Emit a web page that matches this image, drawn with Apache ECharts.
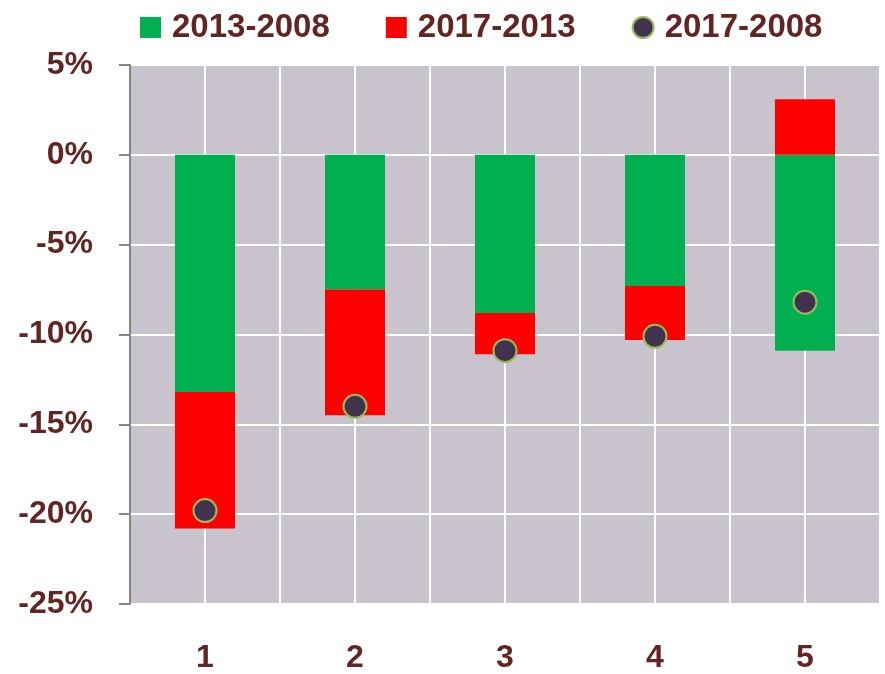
<!DOCTYPE html>
<html>
<head>
<meta charset="utf-8">
<script src="https://cdn.jsdelivr.net/npm/echarts@6/dist/echarts.min.js"></script>
<style>
  html, body { margin: 0; padding: 0; background: #fff; }
  #chart { width: 885px; height: 674px; }
</style>
</head>
<body>
<div id="chart"></div>
<script>
var categories = ['1', '2', '3', '4', '5'];
var change0813 = [-13.2, -7.5, -8.8, -7.3, -10.9];   // 2013-2008
var change1317 = [-7.6, -7.0, -2.3, -3.0, 3.1];      // 2017-2013
var change0817 = [-19.8, -14.0, -10.9, -10.1, -8.2]; // 2017-2008
var yTicks = [-25, -20, -15, -10, -5, 0, 5];

var labelColor = '#632523';
var fontFam = '"Liberation Sans", Arial, sans-serif';

var myChart = echarts.init(document.getElementById('chart'));
myChart.setOption({
    animation: false,
    legend: {
        left: 135,
        top: 6,
        itemWidth: 21,
        itemHeight: 21,
        itemGap: 56,
        textStyle: {
            color: labelColor,
            fontSize: 33,
            fontWeight: 'bold',
            fontFamily: fontFam,
            padding: [0, 0, 0, 6]
        },
        data: [
            { name: '2013-2008', icon: 'rect' },
            { name: '2017-2013', icon: 'rect' },
            { name: '2017-2008', icon: 'circle' }
        ]
    },
    grid: {
        left: 130,
        right: 5,
        top: 65,
        bottom: 64,
        show: true,
        backgroundColor: '#c8c3cd',
        borderWidth: 0
    },
    xAxis: [
        {
            type: 'category',
            data: categories,
            axisLine: { show: false },
            axisTick: { show: false },
            splitLine: { show: false },
            axisLabel: {
                margin: 38,
                color: labelColor,
                fontSize: 32,
                fontWeight: 'bold',
                fontFamily: fontFam
            }
        },
        {
            // helper axis: white vertical lines at every half category
            type: 'value',
            position: 'top',
            min: 0,
            max: 10,
            interval: 1,
            axisLine: { show: false },
            axisTick: { show: false },
            axisLabel: { show: false },
            splitLine: { show: true, lineStyle: { color: '#ffffff', width: 2 } }
        }
    ],
    yAxis: {
        type: 'value',
        min: yTicks[0],
        max: yTicks[yTicks.length - 1],
        interval: 5,
        axisLine: { show: true, lineStyle: { color: '#868686', width: 2 } },
        axisTick: { show: true, length: 11, lineStyle: { color: '#868686', width: 2 } },
        splitLine: { show: true, lineStyle: { color: '#ffffff', width: 2 } },
        axisLabel: {
            margin: 37,
            formatter: '{value}%',
            color: labelColor,
            fontSize: 32,
            fontWeight: 'bold',
            fontFamily: fontFam
        }
    },
    series: [
        {
            name: '2013-2008',
            type: 'bar',
            stack: 'chg',
            barWidth: '40%',
            itemStyle: { color: '#00b050' },
            data: change0813
        },
        {
            name: '2017-2013',
            type: 'bar',
            stack: 'chg',
            barWidth: '40%',
            itemStyle: { color: '#ff0000' },
            data: change1317
        },
        {
            name: '2017-2008',
            type: 'scatter',
            symbol: 'circle',
            symbolSize: 23,
            itemStyle: { color: '#41334f', borderColor: '#9bbb59', borderWidth: 2, opacity: 1 },
            data: change0817,
            z: 5
        }
    ]
});
</script>
</body>
</html>
